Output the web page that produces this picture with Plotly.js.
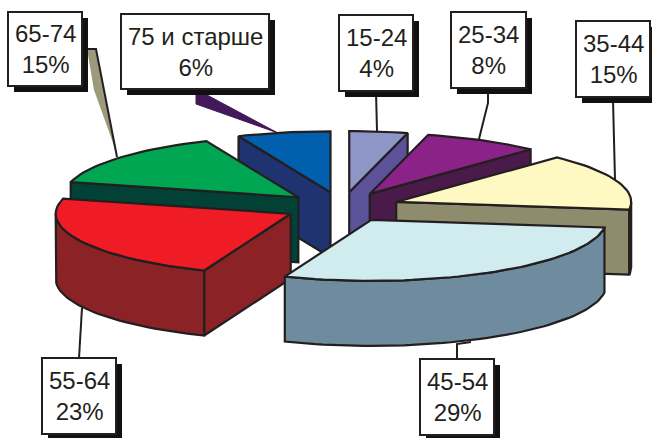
<!DOCTYPE html>
<html>
<head>
<meta charset="utf-8">
<script src="https://cdn.plot.ly/plotly-3.0.1.min.js"></script>
<style>html,body{margin:0;padding:0;background:#fff}#chart{width:652px;height:438px}</style>
</head>
<body>
<div id="chart"></div>
<script>
// Data (labels show the rounded shares)
const categories = ['15-24', '25-34', '35-44', '45-54', '55-64', '65-74', '75 и старше'];
const shares = [4, 8, 15, 29, 23, 14.6, 6.4];

// Styles
const topColors = ['#8e96c8', '#8b2287', '#fef9c3', '#d0ecef', '#ef1c25', '#00a651', '#0060ae'];
const sideColors = ['#5b5299', '#4a1a4a', '#8f8c6e', '#6f8c9f', '#8a2226', '#024136', '#1f3370'];
const drawOrder = [0, 1, 6, 5, 2, 4, 3];
const EDGE = '#231f20';

// Pie projection
const CX = 342, CY = 207, RX = 235, RY = 61, DEPTH = 65, EXPLODE = 0.245;

// Label boxes [x0, y0, x1, y1]
const boxes = [
  [339, 15, 413, 91], [451, 12, 526, 88], [576, 21, 650, 97],
  [420, 359, 494, 435], [42, 358, 116, 434], [8, 12, 82, 86], [121, 14, 269, 89]
];
const SHADOW = 6;

const rad = d => d * Math.PI / 180;
const traces = [];
function poly(xs, ys, fill) {
  traces.push({
    type: 'scatter', mode: 'lines', x: xs, y: ys, fill: 'toself', fillcolor: fill,
    line: {color: EDGE, width: 2.2, shape: 'linear'}, hoverinfo: 'skip', showlegend: false
  });
}
function arc(ax, ay, a0, a1) {
  const n = Math.max(2, Math.ceil(Math.abs(a1 - a0) / 2));
  const xs = [], ys = [];
  for (let i = 0; i <= n; i++) {
    const t = rad(a0 + (a1 - a0) * i / n);
    xs.push(ax + RX * Math.sin(t));
    ys.push(ay - RY * Math.cos(t));
  }
  return {xs, ys};
}

// Slice geometry from the shares
let cum = 0;
const slices = shares.map(v => {
  const a0 = cum * 3.6, a1 = (cum + v) * 3.6;
  cum += v;
  const mid = rad((a0 + a1) / 2);
  return {a0, a1, ax: CX + EXPLODE * RX * Math.sin(mid), ay: CY - EXPLODE * RY * Math.cos(mid)};
});

drawOrder.forEach(i => {
  const s = slices[i];
  const side = sideColors[i];
  const pt = a => [s.ax + RX * Math.sin(rad(a)), s.ay - RY * Math.cos(rad(a))];
  // Cut faces that look towards the viewer
  [s.a0, s.a1].forEach((a, k) => {
    const sin = Math.sin(rad(a));
    if ((k === 0 && sin < -1e-6) || (k === 1 && sin > 1e-6)) {
      const p = pt(a);
      poly([s.ax, p[0], p[0], s.ax, s.ax], [s.ay, p[1], p[1] + DEPTH, s.ay + DEPTH, s.ay], side);
    }
  });
  // Rim
  const r0 = Math.max(s.a0, 90), r1 = Math.min(s.a1, 270);
  if (r1 > r0) {
    const top = arc(s.ax, s.ay, r0, r1);
    const bx = top.xs.slice().reverse();
    const by = top.ys.slice().reverse().map(y => y + DEPTH);
    poly(top.xs.concat(bx, [top.xs[0]]), top.ys.concat(by, [top.ys[0]]), side);
  }
  // Top face
  const t = arc(s.ax, s.ay, s.a0, s.a1);
  poly([s.ax].concat(t.xs, [s.ax]), [s.ay].concat(t.ys, [s.ay]), topColors[i]);
});

// Label boxes, shadows and leaders
const line = {color: EDGE, width: 2};
const path = d => ({type: 'path', path: d, layer: 'below', line, xref: 'x', yref: 'y'});
const shapes = [
  path('M376,92 L377,131'),
  path('M488,90 L488,103 L479,139'),
  path('M613,100 L615,180'),
  path('M82,308 L79,358'),
  path('M457,359 L457,344 L471,342'),
  {type: 'path', path: 'M87,49 L96,49 L117,157 L112,140 L94,90 Z', layer: 'below', fillcolor: '#9c9a7a', line: {width: 0}},
  path('M87,49 L96,49 L117,157'),
  {type: 'path', path: 'M196,95 L207,95 L278,133 L196,104 Z', layer: 'below', fillcolor: '#43195b', line: {color: '#43195b', width: 1}}
];
boxes.forEach(b => {
  shapes.push({type: 'rect', x0: b[0] + SHADOW, y0: b[1] + SHADOW, x1: b[2] + SHADOW, y1: b[3] + SHADOW,
    fillcolor: '#111', line: {width: 0}});
  shapes.push({type: 'rect', x0: b[0], y0: b[1], x1: b[2], y1: b[3], fillcolor: '#fff',
    line: {color: EDGE, width: 2}});
});

const annotations = categories.map((c, i) => ({
  x: (boxes[i][0] + boxes[i][2]) / 2, y: (boxes[i][1] + boxes[i][3]) / 2,
  xref: 'x', yref: 'y', xanchor: 'center', yanchor: 'middle', showarrow: false,
  text: c + '<br>' + Math.round(shares[i]) + '%', align: 'center',
  font: {family: '"Liberation Sans", Arial, sans-serif', size: 24, color: EDGE}
}));

const hidden = {visible: false, fixedrange: true};
Plotly.newPlot('chart', traces, {
  width: 652, height: 438,
  margin: {l: 0, r: 0, t: 0, b: 0},
  paper_bgcolor: '#fff', plot_bgcolor: '#fff',
  showlegend: false,
  xaxis: Object.assign({range: [0, 652]}, hidden),
  yaxis: Object.assign({range: [438, 0]}, hidden),
  shapes, annotations
}, {displayModeBar: false, staticPlot: true});
</script>
</body>
</html>
